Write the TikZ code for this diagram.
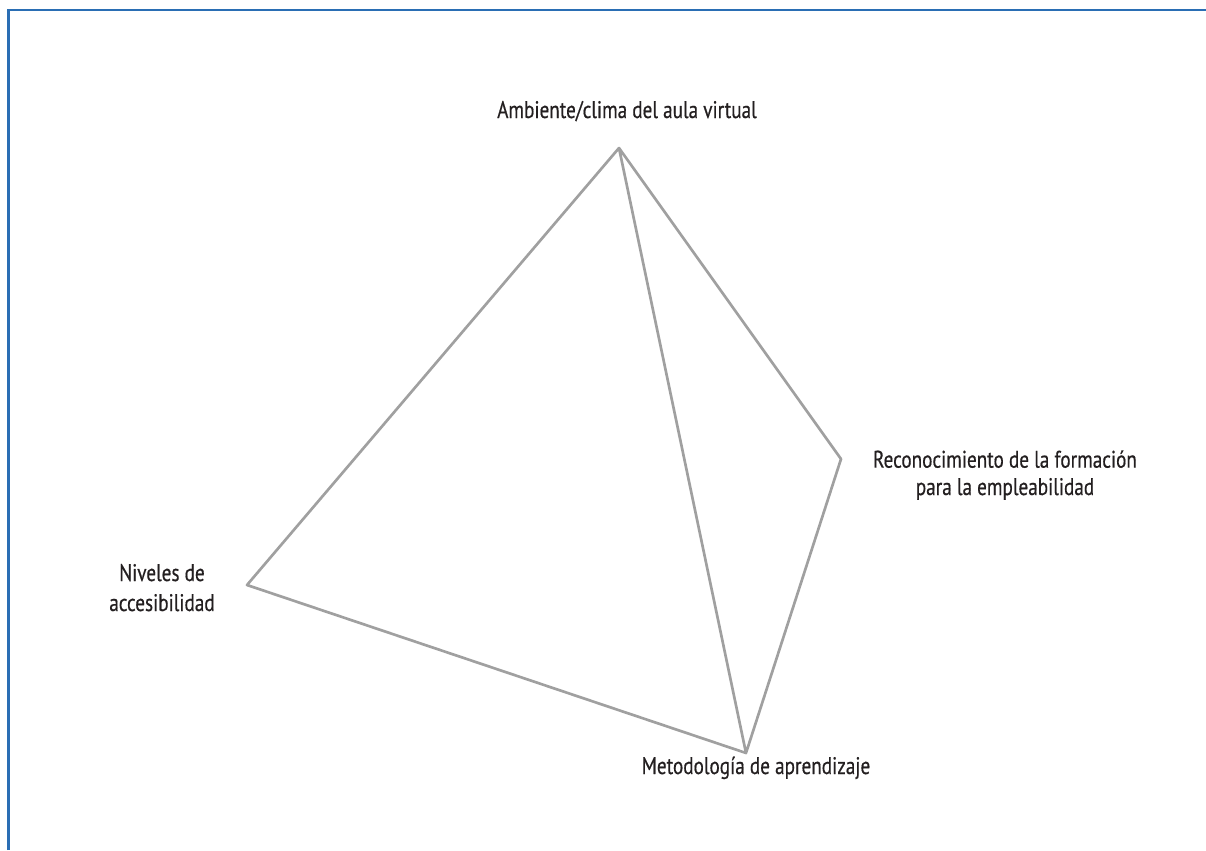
\documentclass[tikz,border=0pt]{standalone}
\usepackage{fontspec}
\newfontfamily\lab{PT Sans}[FakeStretch=0.8,FakeBold=0.5]
\definecolor{frameblue}{HTML}{2A6EB4}
\definecolor{edgegray}{HTML}{A0A0A0}
\definecolor{txt}{HTML}{231F20}
\begin{document}
\begin{tikzpicture}[x=0.75pt,y=-0.75pt,
  edge/.style={draw=edgegray,line width=2pt,line join=round,line cap=round},
  label/.style={font=\lab\fontsize{18}{20.5}\selectfont,text=txt,align=center,inner sep=0pt}]
\useasboundingbox (0,0) rectangle (1206,850);
\draw[frameblue,line width=2pt] (8.5,850) -- (8.5,10) -- (1206,10);
\coordinate (A) at (619,148);
\coordinate (R) at (841,459);
\coordinate (B) at (746,753);
\coordinate (L) at (247,585);
\draw[edge] (A) -- (L) -- (B) -- (R) -- (A) -- (B);
\node[label,anchor=base] (tA) at (627,118) {Ambiente/clima del aula virtual};
\node[label,anchor=base] (tR) at (1005,495) {Reconocimiento de la formación\\para la empleabilidad};
\node[label,anchor=base,font=\lab\fontsize{18}{22.5}\selectfont] (tL) at (162,611) {Niveles de\\accesibilidad};
\node[label,anchor=base] (tB) at (756,774) {Metodología de aprendizaje};
\end{tikzpicture}
\end{document}
